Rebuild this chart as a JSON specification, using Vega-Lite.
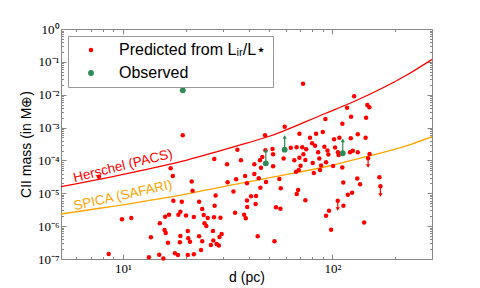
{
"$schema":"https://vega.github.io/schema/vega-lite/v6.json",
"width":371,"height":230,
"autosize":{"type":"none"},
"padding":{"left":61,"top":29,"right":48,"bottom":29},
"background":"white",
"config":{"view":{"stroke":"#888","strokeWidth":1}},
"datasets":{
"pts":[
{"d":7.68,"m":3.2e-5,"t":"p"},{"d":19.3,"m":5.82e-4,"t":"p"},{"d":16.9,"m":5.77e-5,"t":"p"},{"d":17.3,"m":3.36e-5,"t":"p"},{"d":17.4,"m":5.96e-6,"t":"p"},{"d":19.1,"m":5.55e-6,"t":"p"},{"d":18.4,"m":2.23e-6,"t":"p"},{"d":16.6,"m":2.23e-6,"t":"p"},{"d":15.9,"m":1.94e-6,"t":"p"},{"d":18.8,"m":2.75e-6,"t":"p"},{"d":15.0,"m":1.22e-6,"t":"p"},{"d":9.89,"m":1.62e-6,"t":"p"},{"d":10.96,"m":1.77e-6,"t":"p"},{"d":13.6,"m":4.58e-7,"t":"p"},{"d":15.8,"m":7.64e-7,"t":"p"},{"d":16.0,"m":6.19e-7,"t":"p"},{"d":18.8,"m":5.02e-7,"t":"p"},{"d":16.4,"m":3.14e-7,"t":"p"},{"d":18.7,"m":3.23e-7,"t":"p"},{"d":8.55,"m":1.42e-7,"t":"p"},{"d":13.3,"m":1.13e-7,"t":"p"},{"d":14.9,"m":1.35e-7,"t":"p"},{"d":15.6,"m":1.04e-7,"t":"p"},{"d":17.7,"m":1.49e-7,"t":"p"},{"d":18.3,"m":1.32e-7,"t":"p"},
{"d":47.7,"m":5.82e-4,"t":"p"},{"d":35.2,"m":2.12e-4,"t":"p"},{"d":27.3,"m":1.11e-4,"t":"p"},{"d":31.4,"m":7.63e-5,"t":"p"},{"d":36.6,"m":1.01e-4,"t":"p"},{"d":47.9,"m":2.04e-4,"t":"p"},{"d":46.3,"m":1.27e-4,"t":"p"},{"d":45.1,"m":1.01e-4,"t":"p"},{"d":42.4,"m":7.63e-5,"t":"p"},{"d":42.4,"m":3.87e-5,"t":"p"},{"d":45.6,"m":6.01e-5,"t":"p"},{"d":21.3,"m":2.29e-5,"t":"p"},{"d":21.5,"m":1.2e-5,"t":"p"},{"d":31.6,"m":2.16e-5,"t":"p"},{"d":34.7,"m":2.67e-5,"t":"p"},{"d":38.3,"m":3.36e-5,"t":"p"},{"d":39.1,"m":2.01e-5,"t":"p"},{"d":44.5,"m":2.86e-5,"t":"p"},{"d":45.3,"m":1.48e-5,"t":"p"},{"d":48.2,"m":2.21e-5,"t":"p"},{"d":33.7,"m":1.13e-5,"t":"p"},{"d":23.1,"m":5.55e-6,"t":"p"},{"d":27.7,"m":8.57e-6,"t":"p"},{"d":27.4,"m":4.2e-6,"t":"p"},{"d":23.9,"m":3.33e-6,"t":"p"},{"d":21.8,"m":1.9e-6,"t":"p"},{"d":24.3,"m":2.19e-6,"t":"p"},{"d":25.4,"m":1.77e-6,"t":"p"},{"d":27.2,"m":1.87e-6,"t":"p"},{"d":29.2,"m":1.81e-6,"t":"p"},{"d":20.0,"m":2.11e-6,"t":"p"},{"d":34.3,"m":2.57e-6,"t":"p"},{"d":39.1,"m":6.04e-6,"t":"p"},{"d":40.9,"m":8.17e-6,"t":"p"},{"d":43.2,"m":8.28e-6,"t":"p"},{"d":43.0,"m":4.72e-6,"t":"p"},{"d":39.2,"m":3.83e-6,"t":"p"},{"d":37.9,"m":2.23e-6,"t":"p"},{"d":38.6,"m":1.75e-6,"t":"p"},{"d":24.5,"m":1.22e-6,"t":"p"},{"d":25.0,"m":1.01e-6,"t":"p"},{"d":26.9,"m":7.13e-7,"t":"p"},{"d":20.4,"m":7.13e-7,"t":"p"},{"d":20.5,"m":4.27e-7,"t":"p"},{"d":20.9,"m":3.37e-7,"t":"p"},{"d":23.1,"m":4.95e-7,"t":"p"},{"d":23.9,"m":3.46e-7,"t":"p"},{"d":26.3,"m":2.67e-7,"t":"p"},{"d":27.0,"m":3.66e-7,"t":"p"},{"d":28.0,"m":2.86e-7,"t":"p"},{"d":28.7,"m":2.58e-7,"t":"p"},{"d":28.9,"m":4.68e-7,"t":"p"},{"d":29.6,"m":5.77e-7,"t":"p"},{"d":23.6,"m":1.88e-7,"t":"p"},{"d":20.4,"m":1.32e-7,"t":"p"},{"d":21.8,"m":1.39e-7,"t":"p"},{"d":44.0,"m":4.91e-7,"t":"p"},
{"d":72.4,"m":2.16e-2,"t":"p"},{"d":127,"m":8.95e-3,"t":"p"},{"d":117.5,"m":4.03e-3,"t":"p"},{"d":122.8,"m":2.14e-3,"t":"p"},{"d":92.6,"m":1.82e-3,"t":"p"},{"d":111.6,"m":1.31e-3,"t":"p"},{"d":59.2,"m":1.06e-3,"t":"p"},{"d":69.6,"m":6.52e-4,"t":"p"},{"d":90.0,"m":7.33e-4,"t":"p"},{"d":83.6,"m":6.52e-4,"t":"p"},{"d":78.2,"m":4.92e-4,"t":"p"},{"d":101.9,"m":4.4e-4,"t":"p"},{"d":108,"m":4.92e-4,"t":"p"},{"d":122.4,"m":4.72e-4,"t":"p"},{"d":80.0,"m":3.33e-4,"t":"p"},{"d":82.7,"m":2.81e-4,"t":"p"},{"d":63.3,"m":2.44e-4,"t":"p"},{"d":67.5,"m":2.53e-4,"t":"p"},{"d":71.8,"m":2.53e-4,"t":"p"},{"d":75.0,"m":2.18e-4,"t":"p"},{"d":51.8,"m":2.23e-4,"t":"p"},{"d":52.1,"m":1.54e-4,"t":"p"},{"d":58.5,"m":1.15e-4,"t":"p"},{"d":65.8,"m":1.01e-4,"t":"p"},{"d":69.6,"m":1.21e-4,"t":"p"},{"d":72.7,"m":1.54e-4,"t":"p"},{"d":85.5,"m":1.77e-4,"t":"p"},{"d":91.6,"m":2.6e-4,"t":"p"},{"d":94.7,"m":2.01e-4,"t":"p"},{"d":95.7,"m":1.52e-4,"t":"p"},{"d":103,"m":2.48e-4,"t":"p"},{"d":106.3,"m":1.77e-4,"t":"p"},{"d":107.1,"m":1.47e-4,"t":"p"},{"d":121.5,"m":1.77e-4,"t":"p"},{"d":125.2,"m":1.96e-4,"t":"p"},{"d":80.6,"m":8.36e-5,"t":"p"},{"d":86.6,"m":1.14e-4,"t":"p"},{"d":88.3,"m":7.02e-5,"t":"p"},{"d":93.3,"m":8.77e-5,"t":"p"},{"d":100.8,"m":6.78e-5,"t":"p"},{"d":70.5,"m":6.87e-5,"t":"p"},{"d":52.1,"m":6.64e-5,"t":"p"},{"d":74.3,"m":1.03e-4,"t":"p"},{"d":111.5,"m":6.1e-5,"t":"p"},{"d":67.1,"m":4.54e-5,"t":"p"},{"d":69.1,"m":5.12e-5,"t":"p"},{"d":55.8,"m":2.72e-5,"t":"p"},{"d":56.7,"m":1.42e-5,"t":"p"},{"d":81.5,"m":4.15e-5,"t":"p"},{"d":87.3,"m":5.12e-5,"t":"p"},{"d":67.6,"m":9.53e-6,"t":"p"},{"d":68.6,"m":1.26e-5,"t":"p"},{"d":74.3,"m":6.17e-6,"t":"p"},{"d":53.8,"m":3.75e-6,"t":"p"},{"d":56.5,"m":3.37e-6,"t":"p"},{"d":112.7,"m":2.13e-5,"t":"p"},{"d":118.5,"m":9.06e-6,"t":"p"},{"d":124.2,"m":1.04e-5,"t":"p"},{"d":106.1,"m":5.96e-6,"t":"p"},{"d":112.9,"m":4.2e-6,"t":"p"},{"d":96.4,"m":2.93e-6,"t":"p"},{"d":93.3,"m":2.07e-6,"t":"p"},{"d":98.6,"m":7.8e-7,"t":"p"},{"d":52.9,"m":3.48e-7,"t":"p"},
{"d":132.2,"m":6.24e-4,"t":"p"},{"d":144.1,"m":4.92e-4,"t":"p"},{"d":146.8,"m":4.86e-3,"t":"p"},{"d":150.2,"m":4.14e-3,"t":"p"},{"d":144.9,"m":2.0e-3,"t":"p"},{"d":132.2,"m":1.78e-4,"t":"p"},{"d":150.5,"m":1.57e-4,"t":"p"},{"d":148.1,"m":1.16e-4,"t":"p"},{"d":131.5,"m":2.82e-5,"t":"p"},{"d":135.6,"m":1.89e-5,"t":"p"},{"d":167.7,"m":3.07e-5,"t":"p"},{"d":169.6,"m":1.63e-5,"t":"p"},{"d":141.8,"m":1.29e-6,"t":"p"},
{"d":19.3,"m":1.36e-2,"t":"o"},{"d":48.1,"m":8.18e-5,"t":"o"},{"d":59.2,"m":2.12e-4,"t":"o"},{"d":112.1,"m":1.65e-4,"t":"o"}
],
"lims":[
{"d":106.1,"m":5.96e-6,"tip":3.33e-6,"t":"p"},{"d":148.1,"m":1.16e-4,"tip":6.78e-5,"t":"p"},{"d":169.6,"m":1.63e-5,"tip":8.87e-6,"t":"p"},
{"d":48.1,"m":8.18e-5,"tip":2.01e-4,"t":"o"},{"d":59.2,"m":2.12e-4,"tip":5.17e-4,"t":"o"},{"d":112.1,"m":1.65e-4,"tip":4.1e-4,"t":"o"}
],
"curves":[
{"c":"H","d":5.06,"m":1.59e-5},{"c":"H","d":11.16,"m":4.36e-5},{"c":"H","d":20.22,"m":1.03e-4},{"c":"H","d":35.05,"m":2.75e-4},{"c":"H","d":50.4,"m":5.54e-4},{"c":"H","d":92.3,"m":2.68e-3},{"c":"H","d":128.4,"m":6.44e-3},{"c":"H","d":226.7,"m":3.98e-2},{"c":"H","d":299.5,"m":0.1197},
{"c":"S","d":5.06,"m":2.34e-6},{"c":"S","d":7.76,"m":3.5e-6},{"c":"S","d":20.9,"m":1.0e-5},{"c":"S","d":36.2,"m":1.99e-5},{"c":"S","d":53.2,"m":3.2e-5},{"c":"S","d":101.2,"m":7.26e-5},{"c":"S","d":128.4,"m":1.07e-4},{"c":"S","d":239.3,"m":3.16e-4},{"c":"S","d":299.5,"m":5.28e-4}
],
"labels":[
{"c":"H","label":"Herschel (PACS)","d":10,"m":6.78e-5},
{"c":"S","label":"SPICA (SAFARI)","d":10,"m":8.57e-6}
]
},
"layer":[
{"data":{"name":"curves"},"transform":[{"filter":"datum.c === 'H'"}],
 "mark":{"type":"line","color":"#ff0000","strokeWidth":1.3,"interpolate":"monotone","clip":true},
 "encoding":{
  "x":{"field":"d","type":"quantitative","scale":{"type":"log","domain":[5.06,299],"nice":false},
   "axis":{"orient":"top","values":[6,7,8,9,10,20,30,40,50,60,70,80,90,100,200],"labels":false,"title":null,"domain":false,"grid":false,"tickColor":"#888","tickSize":{"condition":{"test":"datum.value == 10 || datum.value == 100","value":-5},"value":-2.5}}},
  "y":{"field":"m","type":"quantitative","scale":{"type":"log","domain":[1e-7,1],"nice":false},
   "axis":{"orient":"right","values":[1e-7,2e-7,3e-7,4e-7,5e-7,6e-7,7e-7,8e-7,9e-7,1e-6,2e-6,3e-6,4e-6,5e-6,6e-6,7e-6,8e-6,9e-6,1e-5,2e-5,3e-5,4e-5,5e-5,6e-5,7e-5,8e-5,9e-5,1e-4,2e-4,3e-4,4e-4,5e-4,6e-4,7e-4,8e-4,9e-4,0.001,0.002,0.003,0.004,0.005,0.006,0.007,0.008,0.009,0.01,0.02,0.03,0.04,0.05,0.06,0.07,0.08,0.09,0.1,0.2,0.3,0.4,0.5,0.6,0.7,0.8,0.9,1],"labels":false,"title":null,"domain":false,"grid":false,"tickColor":"#888","tickSize":{"condition":{"test":"abs(log(datum.value)/LN10 - round(log(datum.value)/LN10)) < 0.01","value":-5},"value":-2.5}}}
 }},
{"data":{"name":"curves"},"transform":[{"filter":"datum.c === 'S'"}],
 "mark":{"type":"line","color":"#ffa500","strokeWidth":1.3,"interpolate":"monotone","clip":true},
 "encoding":{
  "x":{"field":"d","type":"quantitative","axis":null},
  "y":{"field":"m","type":"quantitative","axis":null}
 }},
{"data":{"name":"pts"},
 "mark":{"type":"circle","opacity":1},
 "encoding":{
  "x":{"field":"d","type":"quantitative",
   "axis":{"orient":"bottom","values":[6,7,8,9,10,20,30,40,50,60,70,80,90,100,200],"labelExpr":"datum.value == 10 ? '10¹' : (datum.value == 100 ? '10²' : '')","title":"d (pc)","domain":false,"grid":false,"tickColor":"#888","tickSize":{"condition":{"test":"datum.value == 10 || datum.value == 100","value":-5},"value":-2.5},"labelPadding":8,"labelFont":"Liberation Serif","labelFontSize":13,"labelColor":"#000","labelOverlap":false,"labelFlush":false,"titleFont":"Liberation Sans","titleFontSize":14,"titleFontWeight":"normal","titleColor":"#000","titleX":185.5,"titleY":22.5,"titleBaseline":"alphabetic","titleAlign":"center"}},
  "y":{"field":"m","type":"quantitative",
   "axis":{"orient":"left","values":[1e-7,2e-7,3e-7,4e-7,5e-7,6e-7,7e-7,8e-7,9e-7,1e-6,2e-6,3e-6,4e-6,5e-6,6e-6,7e-6,8e-6,9e-6,1e-5,2e-5,3e-5,4e-5,5e-5,6e-5,7e-5,8e-5,9e-5,1e-4,2e-4,3e-4,4e-4,5e-4,6e-4,7e-4,8e-4,9e-4,0.001,0.002,0.003,0.004,0.005,0.006,0.007,0.008,0.009,0.01,0.02,0.03,0.04,0.05,0.06,0.07,0.08,0.09,0.1,0.2,0.3,0.4,0.5,0.6,0.7,0.8,0.9,1],"labelExpr":"abs(log(datum.value)/LN10 - round(log(datum.value)/LN10)) < 0.01 ? '10' + ['⁰','⁻¹','⁻²','⁻³','⁻⁴','⁻⁵','⁻⁶','⁻⁷'][-round(log(datum.value)/LN10)] : ''","title":"CII mass (in M⊕)","domain":false,"grid":false,"tickColor":"#888","tickSize":{"condition":{"test":"abs(log(datum.value)/LN10 - round(log(datum.value)/LN10)) < 0.01","value":-5},"value":-2.5},"labelPadding":7,"labelFont":"Liberation Serif","labelFontSize":13,"labelColor":"#000","labelOverlap":false,"labelFlush":false,"titleFont":"Liberation Sans","titleFontSize":14,"titleFontWeight":"normal","titleColor":"#000","titleX":-31,"titleY":115,"titleAngle":270,"titleAlign":"center","titleBaseline":"alphabetic"}},
  "color":{"field":"t","type":"ordinal","scale":{"domain":["p","o"],"range":["#ff0000","#2e8b57"]},
   "legend":{"orient":"none","legendX":7,"legendY":7,"title":null,"fillColor":"white","strokeColor":"#999","padding":6,"cornerRadius":0,"labelFont":"Liberation Sans","labelFontSize":16,"labelColor":"#000","symbolType":"circle","symbolStrokeWidth":0,"rowPadding":7,"labelOffset":20,"symbolOffset":9,"labelLimit":300,"labelExpr":"datum.value === 'o' ? 'Observed' : 'Predicted from Lᵢᵣ/L⋆'"}},
  "size":{"field":"t","type":"ordinal","scale":{"domain":["p","o"],"range":[20,34]},
   "legend":{"orient":"none","legendX":7,"legendY":7,"title":null,"fillColor":"white","strokeColor":"#999","padding":6,"cornerRadius":0,"labelFont":"Liberation Sans","labelFontSize":16,"labelColor":"#000","symbolType":"circle","symbolStrokeWidth":0,"rowPadding":7,"labelOffset":20,"symbolOffset":9,"labelLimit":300,"labelExpr":"datum.value === 'o' ? 'Observed' : 'Predicted from Lᵢᵣ/L⋆'"}}
 }},
{"data":{"name":"lims"},
 "mark":{"type":"rule","strokeWidth":1.2},
 "encoding":{
  "x":{"field":"d","type":"quantitative","axis":null},
  "y":{"field":"m","type":"quantitative","axis":null},
  "y2":{"field":"tip"},
  "color":{"condition":{"test":"datum.t === 'o'","value":"#2e8b57"},"value":"#ff0000"}
 }},
{"data":{"name":"lims"},
 "mark":{"type":"point","filled":true,"size":18,"opacity":1},
 "encoding":{
  "x":{"field":"d","type":"quantitative","axis":null},
  "y":{"field":"tip","type":"quantitative","axis":null},
  "shape":{"condition":{"test":"datum.t === 'o'","value":"triangle-up"},"value":"triangle-down"},
  "color":{"condition":{"test":"datum.t === 'o'","value":"#2e8b57"},"value":"#ff0000"}
 }},
{"data":{"name":"labels"},"transform":[{"filter":"datum.c === 'H'"}],
 "mark":{"type":"text","color":"#ff0000","font":"Liberation Sans","fontSize":13.5,"angle":-14,"align":"center","baseline":"middle"},
 "encoding":{
  "x":{"field":"d","type":"quantitative","axis":null},
  "y":{"field":"m","type":"quantitative","axis":null},
  "text":{"field":"label"}
 }},
{"data":{"name":"labels"},"transform":[{"filter":"datum.c === 'S'"}],
 "mark":{"type":"text","color":"#ffa500","font":"Liberation Sans","fontSize":13.5,"angle":-12.5,"align":"center","baseline":"middle"},
 "encoding":{
  "x":{"field":"d","type":"quantitative","axis":null},
  "y":{"field":"m","type":"quantitative","axis":null},
  "text":{"field":"label"}
 }}
],
"resolve":{"axis":{"x":"independent","y":"independent"}}
}
